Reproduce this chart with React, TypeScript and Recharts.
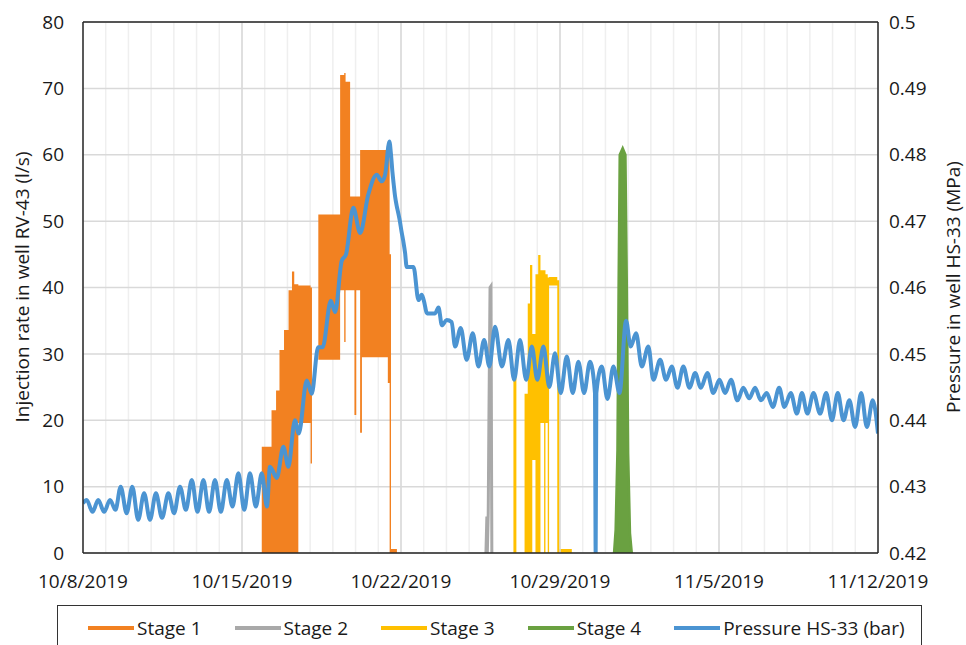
import React from "react";
import {
  ComposedChart,
  Area,
  Line,
  XAxis,
  YAxis,
  CartesianGrid,
  ReferenceLine,
} from "recharts";

// x values are days after 10/8/2019
const dateLabels = ["10/8/2019", "10/15/2019", "10/22/2019", "10/29/2019", "11/5/2019", "11/12/2019"];
const labelDays = [0, 7, 14, 21, 28, 35];
const dayTicks = [
  0, 1, 2, 3, 4, 5, 6, 7, 8, 9, 10, 11, 12, 13, 14, 15, 16, 17,
  18, 19, 20, 21, 22, 23, 24, 25, 26, 27, 28, 29, 30, 31, 32, 33, 34, 35,
];
const rateTicks = [0, 10, 20, 30, 40, 50, 60, 70, 80];
const pressureTicks = [0.42, 0.43, 0.44, 0.45, 0.46, 0.47, 0.48, 0.49, 0.5];

// injection rate (l/s): [day, low, high] envelope of the fast-switching signal
const stage1: [number, number, number][] = [
  [7.87, 0, 16], [8.3, 0, 21.5], [8.5, 0, 24.5], [8.65, 0, 30.6], [8.85, 0, 33.6],
  [9.05, 0, 39.6], [9.2, 0, 42.4], [9.3, 0, 40.5], [9.48, 19.6, 40.3], [10.02, 13.5, 40],
  [10.08, 30, 30], [10.36, 29.1, 51], [11.32, 39.6, 72], [11.5, 31.8, 72.3], [11.56, 39.6, 71],
  [11.76, 39.6, 53.7], [11.95, 20.8, 53.7], [12.03, 39.6, 53.7], [12.2, 18.1, 60.7],
  [12.28, 29.5, 60.7], [13.42, 25.6, 60], [13.5, 0, 45], [13.56, 0, 0.6], [13.82, 0, 0],
];

const stage2: [number, number][] = [
  [17.74, 0], [17.78, 5.5], [17.8, 0], [17.84, 6], [17.87, 20], [17.92, 40], [17.96, 40.2], [18.0, 0],
];

const stage3: [number, number, number][] = [
  [18.95, 0, 27.6], [19.08, 10, 10], [19.44, 0, 24], [19.58, 0, 37.6], [19.68, 0, 43.4],
  [19.78, 14, 33], [19.92, 0, 42], [20.04, 0, 44.9], [20.14, 19.6, 42.6], [20.3, 0, 42.6],
  [20.36, 19.6, 42], [20.46, 0, 41.5], [20.52, 40.3, 41.6], [20.88, 0, 41.1], [20.98, 0, 0.6],
  [21.52, 0, 0],
];

const stage4: [number, number][] = [
  [23.38, 0], [23.45, 3.5], [23.53, 15.5], [23.58, 40], [23.63, 60], [23.76, 61],
  [23.88, 60], [23.94, 40.6], [24.0, 15], [24.08, 3], [24.16, 0],
];

// pressure in HS-33 (MPa): [day, value]
const pressure: [number, number][] = [
  [0, 0.4275], [0.16, 0.428], [0.42, 0.4262], [0.67, 0.428], [0.93, 0.4262], [1.19, 0.428],
  [1.43, 0.4265], [1.66, 0.43], [1.92, 0.426], [2.17, 0.43], [2.43, 0.425], [2.69, 0.429],
  [2.95, 0.425], [3.21, 0.429], [3.48, 0.4253], [3.76, 0.429], [4.01, 0.426], [4.27, 0.43],
  [4.53, 0.4265], [4.79, 0.431], [5.04, 0.4262], [5.3, 0.431], [5.55, 0.4262], [5.81, 0.431],
  [6.07, 0.4262], [6.33, 0.431], [6.58, 0.427], [6.84, 0.432], [7.1, 0.4265], [7.35, 0.432],
  [7.61, 0.427], [7.87, 0.432], [8.1, 0.427], [8.23, 0.433], [8.53, 0.4313], [8.82, 0.436],
  [9.04, 0.433], [9.33, 0.44], [9.5, 0.438], [9.85, 0.446], [10.07, 0.444], [10.35, 0.451],
  [10.55, 0.451], [10.91, 0.458], [11.1, 0.4563], [11.39, 0.464], [11.58, 0.465], [11.9, 0.472],
  [12.2, 0.4682], [12.56, 0.474], [12.93, 0.477], [13.15, 0.476], [13.3, 0.477], [13.49, 0.482],
  [13.56, 0.48], [13.62, 0.4775], [13.68, 0.4755], [13.74, 0.4737], [13.81, 0.4723],
  [13.88, 0.4712], [13.95, 0.47], [14.02, 0.4685], [14.1, 0.467], [14.18, 0.4652],
  [14.25, 0.4631], [14.55, 0.4631], [14.77, 0.4581],
  [14.91, 0.4589], [15.0, 0.4581], [15.15, 0.4561], [15.5, 0.4561], [15.65, 0.457],
  [15.8, 0.4543], [16.01, 0.4551], [16.23, 0.4548], [16.38, 0.4511], [16.63, 0.4539],
  [16.89, 0.4491], [17.16, 0.4531], [17.41, 0.4481], [17.66, 0.4521], [17.89, 0.4481],
  [18.14, 0.4541], [18.44, 0.4481], [18.73, 0.4521], [18.98, 0.4461], [19.24, 0.4521],
  [19.51, 0.4461], [19.76, 0.4511], [20.0, 0.4461], [20.27, 0.4511], [20.53, 0.445],
  [20.78, 0.4501], [21.03, 0.4441], [21.3, 0.4496], [21.56, 0.4441], [21.81, 0.4488],
  [22.06, 0.4441], [22.32, 0.4488], [22.54, 0.4441], [22.57, 0.42], [22.6, 0.4441],
  [22.84, 0.4481], [23.09, 0.4432], [23.35, 0.4481], [23.62, 0.4441], [23.91, 0.455],
  [24.11, 0.4511], [24.35, 0.4531], [24.6, 0.4481], [24.89, 0.4511], [25.11, 0.4461],
  [25.41, 0.4491], [25.67, 0.4461], [25.92, 0.4481], [26.17, 0.4449], [26.43, 0.4481],
  [26.7, 0.4449], [26.95, 0.4471], [27.2, 0.4449], [27.49, 0.4471], [27.75, 0.4441],
  [28.02, 0.4461], [28.27, 0.4441], [28.53, 0.4461], [28.81, 0.443], [29.07, 0.4449],
  [29.33, 0.4433], [29.59, 0.4449], [29.84, 0.443], [30.1, 0.4441], [30.37, 0.442],
  [30.65, 0.4449], [30.88, 0.442], [31.16, 0.4441], [31.43, 0.441], [31.65, 0.4441],
  [31.89, 0.441], [32.16, 0.4441], [32.45, 0.441], [32.72, 0.4441], [32.97, 0.44],
  [33.23, 0.4441], [33.48, 0.44], [33.74, 0.443], [33.99, 0.439], [34.26, 0.4441],
  [34.51, 0.439], [34.77, 0.443], [35.0, 0.438],
];

const COLORS = {
  stage1: "#F28121",
  stage2: "#A9A9A9",
  stage3: "#FFC000",
  stage4: "#6AA141",
  pressure: "#4B94D2",
};

const legendItems = [
  { name: "Stage 1", color: COLORS.stage1 },
  { name: "Stage 2", color: COLORS.stage2 },
  { name: "Stage 3", color: COLORS.stage3 },
  { name: "Stage 4", color: COLORS.stage4 },
  { name: "Pressure HS-33 (bar)", color: COLORS.pressure },
];

const FONT = "'Open Sans', sans-serif";
const AXIS_COLOR = "#262626";
const tickStyle = { fontSize: 19, fill: "#1a1a1a", fontFamily: FONT };

const stage1Data = stage1.map(([d, lo, hi]) => ({ d, r: [lo, hi] }));
const stage2Data = stage2.map(([d, v]) => ({ d, v }));
const stage3Data = stage3.map(([d, lo, hi]) => ({ d, r: [lo, hi] }));
const stage4Data = stage4.map(([d, v]) => ({ d, v }));
const pressureData = pressure.map(([d, p]) => ({ d, p }));

const formatDay = (d: number) => {
  const i = labelDays.indexOf(d);
  return i >= 0 ? dateLabels[i] : "";
};

const App: React.FC = () => {
  return (
    <div
      style={{
        position: "absolute",
        left: 0,
        top: 0,
        width: 966,
        height: 645,
        overflow: "hidden",
        background: "#fff",
        fontFamily: FONT,
      }}
    >
      <ComposedChart
        width={966}
        height={645}
        margin={{ top: 22, right: 0, bottom: 52, left: 0 }}
      >
        <CartesianGrid horizontal={false} stroke="#EFEFEF" strokeWidth={1.5} yAxisId="left" />
        {labelDays.slice(1, -1).map((d) => (
          <ReferenceLine key={d} x={d} yAxisId="left" stroke="#D9D9D9" strokeWidth={1.5} />
        ))}
        <CartesianGrid vertical={false} stroke="#D9D9D9" strokeWidth={1.5} yAxisId="left" />
        <XAxis
          dataKey="d"
          type="number"
          domain={[0, 35]}
          ticks={dayTicks}
          interval={0}
          allowDataOverflow
          tickFormatter={formatDay}
          tickLine={false}
          tickSize={0}
          tickMargin={22}
          height={40}
          axisLine={{ stroke: AXIS_COLOR, strokeWidth: 1.5 }}
          tick={tickStyle}
        />
        <YAxis
          yAxisId="left"
          domain={[0, 80]}
          ticks={rateTicks}
          width={83}
          tickLine={false}
          tickSize={0}
          tickMargin={19}
          axisLine={{ stroke: AXIS_COLOR, strokeWidth: 1.5 }}
          tick={tickStyle}
        />
        <YAxis
          yAxisId="right"
          orientation="right"
          domain={[0.42, 0.5]}
          ticks={pressureTicks}
          allowDataOverflow
          width={88}
          tickLine={false}
          tickSize={0}
          tickMargin={11}
          tickFormatter={(v: number) => String(Math.round(v * 100) / 100)}
          axisLine={{ stroke: AXIS_COLOR, strokeWidth: 1.5 }}
          tick={tickStyle}
        />
        <ReferenceLine y={80} yAxisId="left" stroke={AXIS_COLOR} strokeWidth={1.5} />

        <Area
          data={stage1Data}
          dataKey="r"
          yAxisId="left"
          type="stepAfter"
          stroke="none"
          fill={COLORS.stage1}
          fillOpacity={1}
          isAnimationActive={false}
        />
        <Line
          data={stage2Data}
          dataKey="v"
          yAxisId="left"
          type="linear"
          stroke={COLORS.stage2}
          strokeWidth={3}
          dot={false}
          isAnimationActive={false}
        />
        <Area
          data={stage3Data}
          dataKey="r"
          yAxisId="left"
          type="stepAfter"
          stroke="none"
          fill={COLORS.stage3}
          fillOpacity={1}
          isAnimationActive={false}
        />
        <Area
          data={stage4Data}
          dataKey="v"
          yAxisId="left"
          type="linear"
          stroke={COLORS.stage4}
          strokeWidth={2.5}
          fill={COLORS.stage4}
          fillOpacity={1}
          isAnimationActive={false}
        />
        <Line
          data={pressureData}
          dataKey="p"
          yAxisId="right"
          type="monotoneX"
          stroke={COLORS.pressure}
          strokeWidth={4}
          strokeLinejoin="round"
          dot={false}
          isAnimationActive={false}
        />
      </ComposedChart>

      <svg
        width={966}
        height={645}
        style={{ position: "absolute", left: 0, top: 0, pointerEvents: "none" }}
      >
        <text
          transform="translate(22,287) rotate(-90)"
          textAnchor="middle"
          dominantBaseline="central"
          fontSize={19}
          fontFamily={FONT}
          fill="#1a1a1a"
        >
          Injection rate in well RV-43 (l/s)
        </text>
        <text
          transform="translate(953,287) rotate(-90)"
          textAnchor="middle"
          dominantBaseline="central"
          fontSize={19}
          fontFamily={FONT}
          fill="#1a1a1a"
        >
          Pressure in well HS-33 (MPa)
        </text>
      </svg>

      <div
        style={{
          position: "absolute",
          left: 57,
          top: 605,
          width: 865,
          height: 60,
          boxSizing: "border-box",
          border: "1.5px solid #333",
          display: "flex",
          alignItems: "flex-start",
          paddingLeft: 30,
          paddingTop: 9,
          fontSize: 19,
          lineHeight: "26px",
          color: "#1a1a1a",
        }}
      >
        {legendItems.map((item) => (
          <div
            key={item.name}
            style={{ display: "flex", alignItems: "center", marginRight: 33, whiteSpace: "nowrap" }}
          >
            <span
              style={{
                display: "inline-block",
                width: 46,
                height: 4,
                background: item.color,
                marginRight: 3,
              }}
            />
            <span>{item.name}</span>
          </div>
        ))}
      </div>
    </div>
  );
};

export default App;
